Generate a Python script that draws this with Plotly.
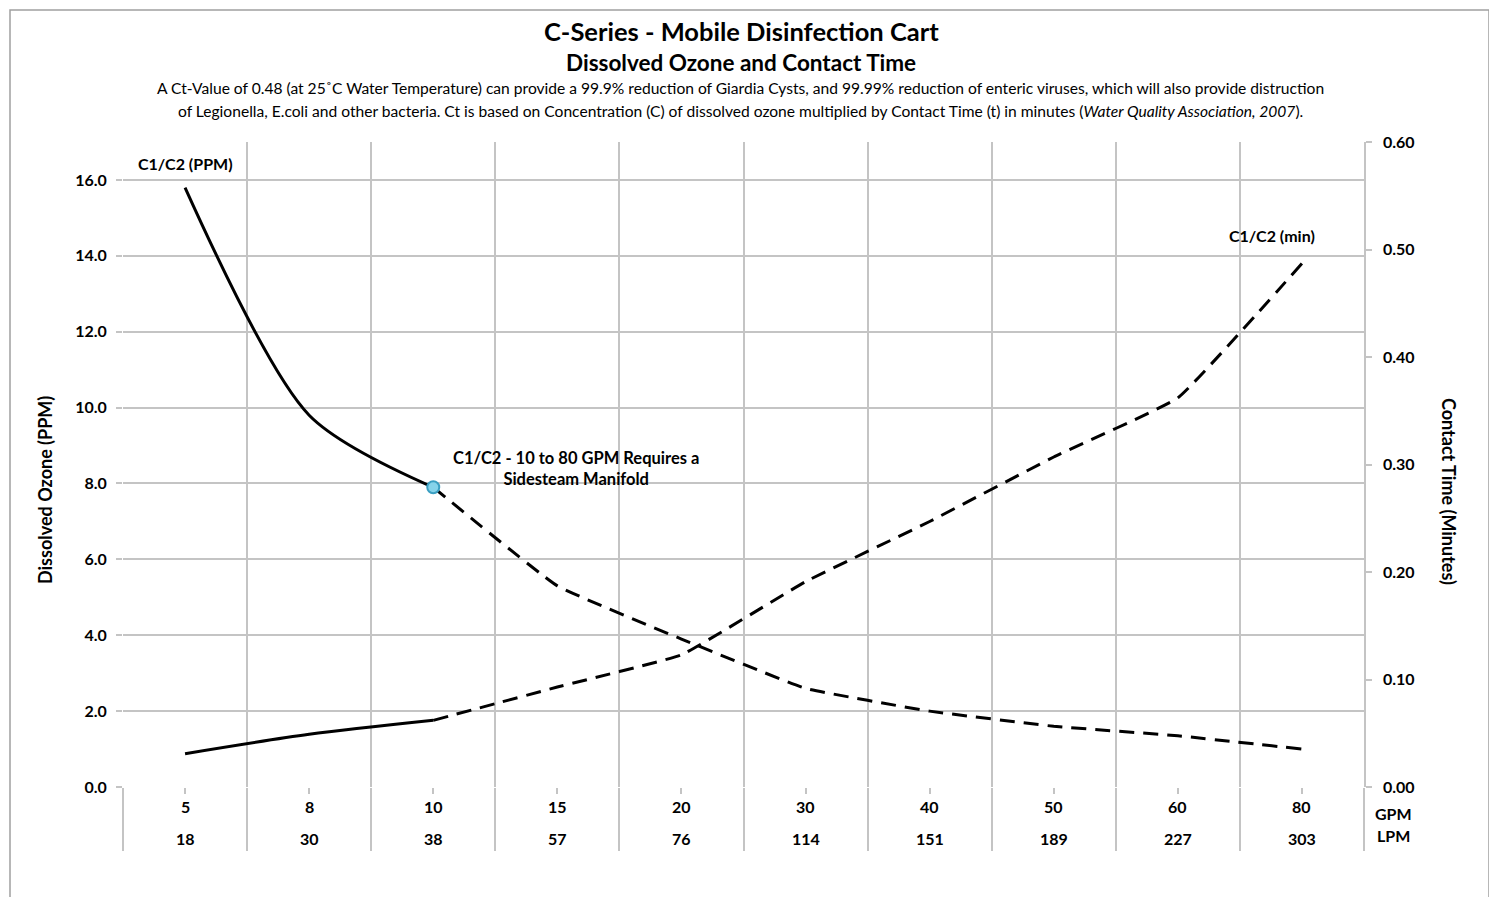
import plotly.graph_objects as go

# ---- data ----
gpm = ["5", "8", "10", "15", "20", "30", "40", "50", "60", "80"]
lpm = ["18", "30", "38", "57", "76", "114", "151", "189", "227", "303"]
ppm = [15.8, 9.8, 7.9, 5.3, 3.9, 2.6, 2.0, 1.6, 1.35, 1.0]
minutes = [0.031, 0.049, 0.062, 0.093, 0.123, 0.191, 0.247, 0.307, 0.362, 0.487]
left_ticks = [0, 2, 4, 6, 8, 10, 12, 14, 16]
right_ticks = [0.0, 0.1, 0.2, 0.3, 0.4, 0.5, 0.6]

FONT = "Lato"
GRID = "#c4c4c4"
xs = list(range(len(gpm)))
split = 2  # index where sidestream (dashed) part starts (10 GPM)

# screen-pixel helpers (plot area spans x 123..1364, y 142..787 on screen)
def px(x):
    return (x - 123) / 1241

def py(y):
    return (787 - y) / 645

fig = go.Figure()
line_solid = dict(color="black", width=3, shape="spline", smoothing=0.8)
line_dash = dict(color="black", width=3, dash="15px,9px", shape="spline", smoothing=0.3)

fig.add_trace(go.Scatter(x=xs[:split + 1], y=ppm[:split + 1], mode="lines",
                         line=line_solid, yaxis="y", showlegend=False))
fig.add_trace(go.Scatter(x=xs[split:], y=ppm[split:], mode="lines",
                         line=line_dash, yaxis="y", showlegend=False))
fig.add_trace(go.Scatter(x=xs[:split + 1], y=minutes[:split + 1], mode="lines",
                         line=line_solid, yaxis="y2", showlegend=False))
fig.add_trace(go.Scatter(x=xs[split:], y=minutes[split:], mode="lines",
                         line=line_dash, yaxis="y2", showlegend=False))
fig.add_trace(go.Scatter(x=[xs[split]], y=[ppm[split]], mode="markers",
                         marker=dict(size=12, color="#86d3ea",
                                     line=dict(color="#3b9fc2", width=2)),
                         yaxis="y", showlegend=False))

tick_font = dict(family=FONT, size=16, color="black", weight="bold")

fig.update_layout(
    width=1497, height=897,
    margin=dict(l=115, r=141, t=134, b=118),
    paper_bgcolor="white", plot_bgcolor="white",
    font=dict(family=FONT, color="black"),
    xaxis=dict(
        range=[-0.5, len(gpm) - 0.5],
        tickmode="linear", tick0=-0.5, dtick=1,
        showticklabels=False,
        ticks="outside", ticklen=63, tickcolor=GRID, tickwidth=1.5,
        showgrid=True, gridcolor=GRID, gridwidth=1.5,
        zeroline=False, showline=False,
        minor=dict(dtick=0.5, ticks="outside", ticklen=6, tickcolor=GRID,
                   tickwidth=1.5, showgrid=False),
    ),
    yaxis=dict(
        range=[0, 17], tickvals=left_ticks, tickformat=".1f",
        showgrid=True, gridcolor=GRID, gridwidth=1.5,
        ticks="outside", ticklen=6, tickcolor=GRID, tickwidth=1.5,
        zeroline=False, showline=False, tickfont=tick_font,
        ticklabelstandoff=6,
    ),
    yaxis2=dict(
        range=[0, 0.6], tickvals=right_ticks, tickformat=".2f",
        overlaying="y", side="right", showgrid=False,
        ticks="outside", ticklen=6, tickcolor=GRID, tickwidth=1.5,
        showline=True, linecolor=GRID, linewidth=1.5,
        zeroline=False, tickfont=tick_font, ticklabelstandoff=8,
    ),
)

ann = []
bold16 = dict(family=FONT, size=16, color="black", weight="bold")
for i, (g, l) in enumerate(zip(gpm, lpm)):
    ann.append(dict(x=i, y=py(806), xref="x", yref="paper", text=g, showarrow=False,
                    font=bold16, xanchor="center", yanchor="middle"))
    ann.append(dict(x=i, y=py(838), xref="x", yref="paper", text=l, showarrow=False,
                    font=bold16, xanchor="center", yanchor="middle"))
ann.append(dict(x=px(1393), y=py(813), xref="paper", yref="paper", text="GPM", showarrow=False,
                font=bold16, xanchor="center", yanchor="middle"))
ann.append(dict(x=px(1393), y=py(835), xref="paper", yref="paper", text="LPM", showarrow=False,
                font=bold16, xanchor="center", yanchor="middle"))

# titles
ann.append(dict(x=px(741), y=py(31), xref="paper", yref="paper",
                text="C-Series - Mobile Disinfection Cart", showarrow=False,
                font=dict(family=FONT, size=25.5, color="black", weight="bold"),
                xanchor="center", yanchor="middle"))
ann.append(dict(x=px(741), y=py(63), xref="paper", yref="paper",
                text="Dissolved Ozone and Contact Time", showarrow=False,
                font=dict(family=FONT, size=22.5, color="black", weight="bold"),
                xanchor="center", yanchor="middle"))
desc_font = dict(family=FONT, size=15.6, color="black")
ann.append(dict(x=px(740), y=py(88), xref="paper", yref="paper",
                text=("A Ct-Value of 0.48 (at 25˚C Water Temperature) can provide a 99.9% reduction of Giardia Cysts, "
                      "and 99.99% reduction of enteric viruses, which will also provide distruction"),
                showarrow=False, font=desc_font, xanchor="center", yanchor="middle"))
ann.append(dict(x=px(740), y=py(111), xref="paper", yref="paper",
                text=("of Legionella, E.coli and other bacteria. Ct is based on Concentration (C) of dissolved ozone "
                      "multiplied by Contact Time (t) in minutes (<i>Water Quality Association, 2007</i>)."),
                showarrow=False, font=desc_font, xanchor="center", yanchor="middle"))

# axis titles
ann.append(dict(x=px(45), y=py(490), xref="paper", yref="paper",
                text="Dissolved Ozone (PPM)", textangle=-90, showarrow=False,
                font=dict(family=FONT, size=18, color="black", weight="bold"),
                xanchor="center", yanchor="middle"))
ann.append(dict(x=px(1449), y=py(491), xref="paper", yref="paper",
                text="Contact Time (Minutes)", textangle=90, showarrow=False,
                font=dict(family=FONT, size=18, color="black", weight="bold"),
                xanchor="center", yanchor="middle"))

# series labels
ann.append(dict(x=0, y=py(163), xref="x", yref="paper", text="C1/C2 (PPM)",
                showarrow=False, font=bold16, xanchor="center", yanchor="middle"))
ann.append(dict(x=8.76, y=py(235), xref="x", yref="paper", text="C1/C2 (min)",
                showarrow=False, font=bold16, xanchor="center", yanchor="middle"))
ann.append(dict(x=3.15, y=py(469), xref="x", yref="paper",
                text="C1/C2 - 10 to 80 GPM Requires a<br>Sidesteam Manifold",
                showarrow=False, font=dict(family=FONT, size=16.5, color="black", weight="bold"),
                xanchor="center", yanchor="middle", align="center"))

fig.update_layout(annotations=ann)

# outer frame of chart (kept inside the figure canvas)
fig.add_shape(type="rect", xref="paper", yref="paper",
              x0=px(10), x1=px(1489), y0=py(905), y1=py(10),
              line=dict(color="#a0a0a0", width=1.5), fillcolor="rgba(0,0,0,0)", layer="below")

fig.write_html("out.html")
